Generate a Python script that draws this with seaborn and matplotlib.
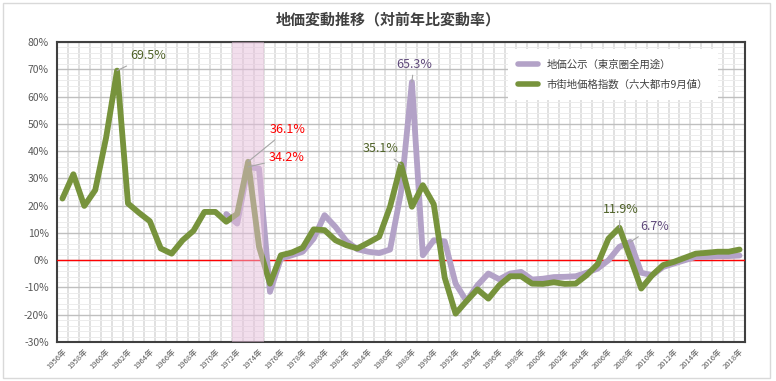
import numpy as np
import pandas as pd
import seaborn as sns
import matplotlib.pyplot as plt
from matplotlib.lines import Line2D
from matplotlib.patches import Rectangle

# 年（1956年〜2018年）
years = list(range(1956, 2019))

# 市街地価格指数（六大都市9月値） 対前年比 %
shigaichi = [
    22.6, 31.5, 19.9, 25.7, 45.0, 69.5, 20.8, 17.4, 14.3, 4.3,
    2.4, 7.3, 10.8, 17.7, 17.7, 14.1, 17.0, 36.1, 4.9, -8.6,
    1.8, 2.8, 4.6, 11.3, 11.0, 7.3, 5.5, 4.3, 6.4, 8.6,
    19.6, 35.1, 19.6, 27.5, 20.5, -6.4, -19.6, -15.0, -10.7, -14.1,
    -9.2, -5.9, -5.9, -8.6, -8.7, -8.1, -8.7, -8.6, -5.5, -1.5,
    7.9, 11.9, 0.8, -10.4, -5.5, -1.8, -0.6, 0.9, 2.4, 2.7,
    3.1, 3.1, 3.9,
]

# 地価公示（東京圏全用途） 対前年比 %  1971年から
chika_koji = [np.nan] * 15 + [
    16.9, 13.4, 34.2, 33.6, -11.6, 0.6, 1.8, 3.1, 7.9, 16.5,
    12.2, 7.0, 4.0, 3.1, 2.6, 3.9, 25.0, 65.3, 1.8, 7.3,
    6.9, -8.6, -15.0, -9.2, -4.9, -7.0, -4.9, -4.3, -7.1, -6.8,
    -6.2, -6.1, -5.9, -4.6, -3.1, 0.0, 4.9, 6.7, -4.6, -5.5,
    -2.5, -1.2, 0.0, 1.2, 1.2, 1.5, 1.5, 1.7,
]

series_names = ["地価公示（東京圏全用途）", "市街地価格指数（六大都市9月値）"]
tick_labels = [f"{y}年" for y in years]

# 石油ショック期の網掛け
shade_years = (1972, 1974)

# 注記 (系列, 年)
notes = [(1, 1961), (1, 1973), (0, 1973), (0, 1988), (1, 1987), (1, 2007), (0, 2008)]

n = len(years)
df = pd.DataFrame({
    "pos": list(range(n)) * 2,
    "rate": chika_koji + shigaichi,
    "series": [series_names[0]] * n + [series_names[1]] * n,
})

sns.set_style("white")
plt.rcParams["font.family"] = ["Noto Sans CJK JP", "DejaVu Sans"]

colors = ["#b3a2c7", "#77933c"]
text_colors = ["#604a7b", "#4f6228"]
grey = "#595959"

fig = plt.figure(figsize=(7.76, 3.81), dpi=100)
ax = fig.add_axes([57 / 776, 1 - 342 / 381, 688 / 776, 300 / 381])

sns.lineplot(data=df, x="pos", y="rate", hue="series", hue_order=series_names,
             palette=colors, linewidth=4.2, estimator=None, legend=False, ax=ax,
             solid_joinstyle="round", solid_capstyle="round", zorder=4)

ax.set_xlim(-0.5, n - 0.5)
ax.set_ylim(-30, 80)

# grid
ax.set_yticks(np.arange(-30, 81, 10))
ax.set_yticks(np.arange(-30, 81, 2), minor=True)
ax.set_yticklabels([f"{v}%" for v in range(-30, 81, 10)], fontsize=7.5, color=grey)
ax.set_xticks(range(0, n, 2))
ax.set_xticklabels(tick_labels[::2], rotation=45, ha="right", rotation_mode="anchor",
                   fontsize=5.5, color=grey)
ax.set_xticks(np.arange(0.5, n - 1, 1), minor=True)
ax.tick_params(which="both", length=0)
ax.tick_params(axis="x", pad=4)
ax.tick_params(axis="y", pad=6)
ax.grid(which="major", axis="y", color="#bfbfbf", lw=1.0)
ax.grid(which="minor", axis="y", color="#ececec", lw=0.7)
ax.grid(which="minor", axis="x", color="#dcdcdc", lw=1.2)
ax.set_axisbelow(True)
ax.set_xlabel("")
ax.set_ylabel("")

ax.axhline(0, color="#ff0000", lw=1.0, zorder=3)

s0 = years.index(shade_years[0]) - 0.5
s1 = years.index(shade_years[1]) + 0.5
ax.axvspan(s0, s1, color="#e6bedb", alpha=0.5, lw=0, zorder=5)

for sp in ax.spines.values():
    sp.set_color("#404040")
    sp.set_linewidth(1.5)

# 注記
offsets = [(9.4, 10.8, "left"), (15.8, 23.4, "left"), (15.1, 6.5, "left"),
           (1.4, 13.0, "center"), (-14.8, 11.5, "center"), (0.7, 13.3, "center"),
           (7.2, 11.3, "left")]
red_notes = [(1, 1973), (0, 1973)]
for (s, yr), (dx, dy, ha) in zip(notes, offsets):
    i = years.index(yr)
    val = [chika_koji, shigaichi][s][i]
    c = "#ff0000" if (s, yr) in red_notes else text_colors[s]
    ax.annotate(f"{val:.1f}%", xy=(i, val), xytext=(dx, dy), textcoords="offset points",
                ha=ha, va="center", fontsize=9, color=c, zorder=7,
                arrowprops=dict(arrowstyle="-", color="#a6a6a6", lw=0.8,
                                shrinkA=1, shrinkB=0))

handles = [Line2D([], [], color=c, lw=4) for c in colors]
leg = ax.legend(handles, series_names, loc="upper left", bbox_to_anchor=(0.655, 0.975),
                fontsize=7.5, frameon=True, facecolor="white", edgecolor="none",
                framealpha=1, fancybox=False, handlelength=1.9, handletextpad=0.8,
                labelspacing=0.9, borderpad=1.0, borderaxespad=0)
for t in leg.get_texts():
    t.set_color("#404040")
leg.set_zorder(8)

fig.text(0.5, 1 - 19 / 381, "地価変動推移（対前年比変動率）", ha="center", va="center",
         fontsize=10.8, fontweight="bold", color="#404040")

fig.patches.append(Rectangle((3 / 776, 3 / 381), 767 / 776, 375 / 381, transform=fig.transFigure,
                             fill=False, edgecolor="#d9d9d9", lw=1))

fig.savefig("out.png", dpi=100)
